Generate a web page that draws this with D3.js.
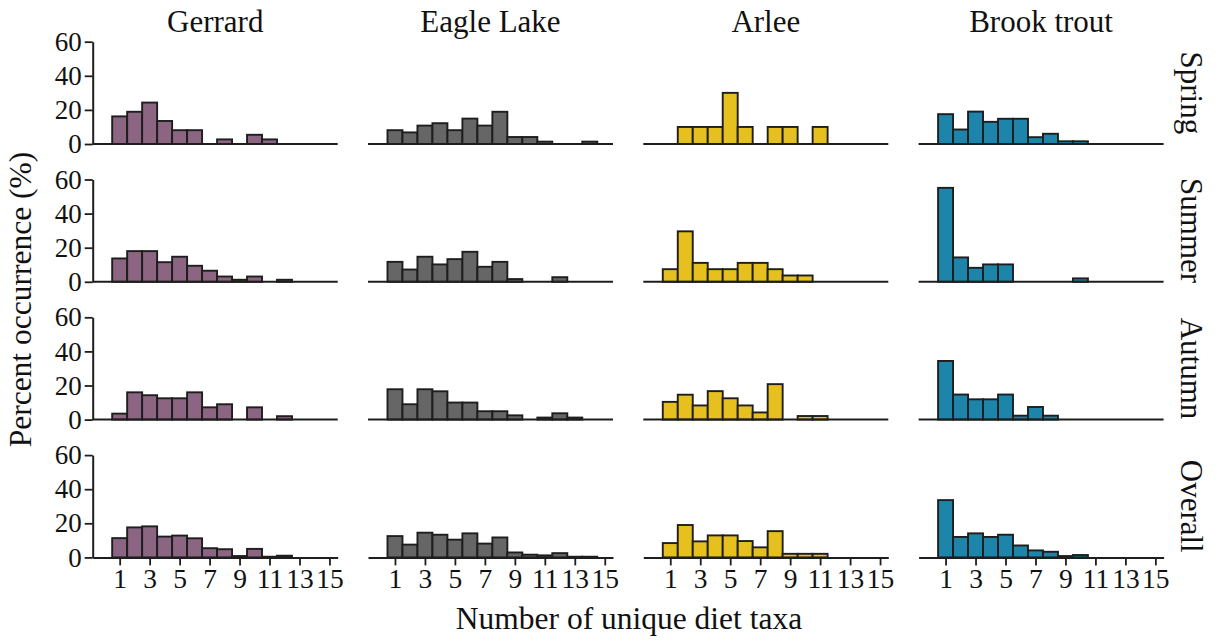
<!DOCTYPE html>
<html>
<head>
<meta charset="utf-8">
<script src="https://cdn.jsdelivr.net/npm/d3@7/dist/d3.min.js"></script>
<style>
  html, body { margin: 0; padding: 0; background: #fff; }
  svg { display: block; }
  text { font-family: "Liberation Serif", "Times New Roman", serif; fill: #111; }
</style>
</head>
<body>
<svg id="chart" width="1215" height="642"></svg>
<script>
// Number of unique diet taxa (bin centres)
const taxa = d3.range(1, 16);
const xTickValues = [1, 3, 5, 7, 9, 11, 13, 15];
const yTickValues = [0, 20, 40, 60];

const sites = ["Gerrard", "Eagle Lake", "Arlee", "Brook trout"];
const seasons = ["Spring", "Summer", "Autumn", "Overall"];
const siteColors = ["#8b6581", "#666666", "#e5c01e", "#1d84aa"];

// Percent occurrence per number of taxa (index 0 = 1 taxon)
const gerrardSpring  = [16.2, 18.9, 24.3, 13.5, 8.1, 8.1, 0, 2.7, 0, 5.4, 2.7, 0, 0, 0, 0];
const gerrardSummer  = [13.7, 18.0, 18.0, 11.5, 14.7, 9.4, 6.5, 3.1, 1.2, 3.1, 0, 1.2, 0, 0, 0];
const gerrardAutumn  = [3.5, 16.0, 14.3, 12.5, 12.5, 16.0, 7.2, 9.0, 0, 7.2, 0, 2.0, 0, 0, 0];
const gerrardOverall = [11.3, 17.6, 18.2, 12.2, 12.8, 11.2, 5.4, 4.8, 0.8, 5.0, 0.4, 1.0, 0, 0, 0];

const eagleSpring  = [8.1, 6.8, 10.8, 12.2, 8.1, 14.9, 10.8, 18.9, 4.1, 4.1, 1.4, 0, 0, 1.4, 0];
const eagleSummer  = [11.7, 7.2, 14.7, 10.2, 13.3, 17.6, 8.8, 11.7, 1.6, 0, 0, 2.7, 0, 0, 0];
const eagleAutumn  = [17.8, 9.0, 17.8, 16.6, 10.0, 10.0, 4.9, 4.9, 2.5, 0, 1.2, 3.7, 1.2, 0, 0];
const eagleOverall = [12.5, 7.5, 14.5, 13.3, 10.4, 14.1, 8.1, 11.7, 2.9, 1.6, 1.2, 2.5, 0.4, 0.4, 0];

const arleeSpring  = [0, 10, 10, 10, 30, 10, 0, 10, 10, 0, 10, 0, 0, 0, 0];
const arleeSummer  = [7.4, 29.6, 11.1, 7.4, 7.4, 11.1, 11.1, 7.4, 3.7, 3.7, 0, 0, 0, 0, 0];
const arleeAutumn  = [10.4, 14.6, 8.3, 16.7, 12.5, 8.3, 4.2, 20.8, 0, 2.1, 2.1, 0, 0, 0, 0];
const arleeOverall = [8.4, 19.0, 9.4, 12.9, 12.9, 9.6, 5.9, 15.4, 2.1, 2.1, 2.1, 0, 0, 0, 0];

const brookSpring  = [17.5, 8.5, 19.0, 13.0, 14.8, 14.8, 4.0, 6.0, 1.6, 1.6, 0, 0, 0, 0, 0];
const brookSummer  = [55.1, 14.3, 8.2, 10.2, 10.2, 0, 0, 0, 0, 2.0, 0, 0, 0, 0, 0];
const brookAutumn  = [34.4, 14.7, 11.9, 11.9, 14.7, 2.3, 7.4, 2.3, 0, 0, 0, 0, 0, 0, 0];
const brookOverall = [33.6, 12.0, 14.1, 12.0, 13.3, 7.0, 4.1, 3.3, 0.8, 1.4, 0, 0, 0, 0, 0];

// rows = seasons, columns = sites
const panelData = [
  [gerrardSpring,  eagleSpring,  arleeSpring,  brookSpring],
  [gerrardSummer,  eagleSummer,  arleeSummer,  brookSummer],
  [gerrardAutumn,  eagleAutumn,  arleeAutumn,  brookAutumn],
  [gerrardOverall, eagleOverall, arleeOverall, brookOverall]
];

// Layout
const panelW = 245, panelH = 102.3;
const colLeft = [92.7, 368, 643.3, 918.6];
const rowBase = [144, 281.8, 419.6, 557.4];
const ink = "#1e1e1e";
const serif = "Liberation Serif, Times New Roman, serif";

const svg = d3.select("#chart");

const x = d3.scaleLinear().domain([-0.8, 15.55]).range([0, panelW]);
const y = d3.scaleLinear().domain([0, 60]).range([panelH, 0]);

seasons.forEach((season, r) => {
  sites.forEach((site, c) => {
    const g = svg.append("g")
      .attr("transform", `translate(${colLeft[c]},${rowBase[r] - panelH})`);

    const vals = panelData[r][c]
      .map((v, i) => ({ taxa: taxa[i], value: v }))
      .filter(d => d.value > 0);

    g.selectAll("rect.bar")
      .data(vals)
      .join("rect")
      .attr("class", "bar")
      .attr("x", d => x(d.taxa - 0.5))
      .attr("width", d => x(d.taxa + 0.5) - x(d.taxa - 0.5))
      .attr("y", d => y(d.value))
      .attr("height", d => y(0) - y(d.value))
      .attr("fill", siteColors[c])
      .attr("stroke", ink)
      .attr("stroke-width", 1.9);

    if (r === seasons.length - 1) {
      const ax = g.append("g")
        .attr("transform", `translate(0,${panelH})`)
        .call(d3.axisBottom(x).tickValues(xTickValues).tickSize(8).tickSizeOuter(0).tickPadding(3));
      ax.attr("font-family", serif);
      ax.select(".domain").attr("stroke", ink).attr("stroke-width", 2);
      ax.selectAll(".tick line").attr("stroke", ink).attr("stroke-width", 1.8);
      ax.selectAll(".tick text")
        .attr("font-size", 27.5)
        .attr("fill", "#111");
    } else {
      g.append("line")
        .attr("x1", 0).attr("x2", panelW)
        .attr("y1", panelH).attr("y2", panelH)
        .attr("stroke", ink).attr("stroke-width", 2);
    }

    if (c === 0) {
      const ay = g.append("g")
        .call(d3.axisLeft(y).tickValues(yTickValues).tickSize(8).tickSizeOuter(0).tickPadding(3));
      ay.attr("font-family", serif);
      ay.select(".domain").attr("stroke", ink).attr("stroke-width", 2);
      ay.selectAll(".tick line").attr("stroke", ink).attr("stroke-width", 1.8);
      ay.selectAll(".tick text")
        .attr("font-size", 27)
        .attr("fill", "#111");
    }

    if (r === 0) {
      svg.append("text")
        .attr("x", colLeft[c] + panelW / 2)
        .attr("y", 32)
        .attr("text-anchor", "middle")
        .attr("font-size", 31)
        .text(site);
    }
  });

  // season strip label on the right
  const cy = rowBase[r] - panelH / 2;
  svg.append("text")
    .attr("transform", `translate(1181,${cy}) rotate(90)`)
    .attr("text-anchor", "middle")
    .attr("font-size", 31)
    .text(season);
});

// Axis titles
svg.append("text")
  .attr("x", 629)
  .attr("y", 629)
  .attr("text-anchor", "middle")
  .attr("font-size", 31.5)
  .text("Number of unique diet taxa");

svg.append("text")
  .attr("transform", `translate(31,${(rowBase[0] - panelH + rowBase[3]) / 2}) rotate(-90)`)
  .attr("text-anchor", "middle")
  .attr("font-size", 31.5)
  .text("Percent occurrence (%)");
</script>
</body>
</html>
